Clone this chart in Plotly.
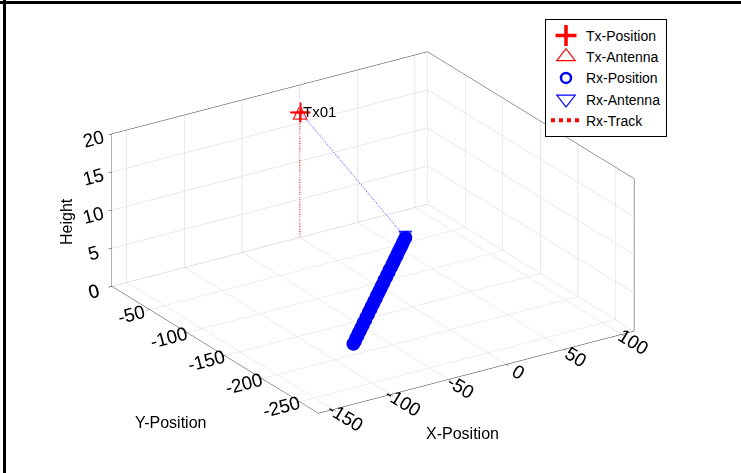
import plotly.graph_objects as go

# ---- data ----
tx_pos = [0.0, 0.0, 16.5]          # x, y, height
tx_label = "Tx01"
rx_x = [53.0, 49.4, 46.1, 42.7, 39.4, 35.8, 32.5, 29.1, 25.6, 22.2, 18.9, 15.4,
        11.8, 8.6, 5.0, 1.7, -1.9, -5.1, -8.7, -12.0, -15.4, -18.9, -22.4, -25.6,
        -29.2, -32.5, -36.1, -39.3, -42.9, -46.1, -49.8, -53.0, -56.6, -59.8,
        -63.4, -66.7, -70.3, -73.5, -77.1, -80.4, -84.0]
rx_y = [-59.0, -62.6, -66.0, -69.7, -73.0, -76.7, -80.1, -83.8, -87.1, -90.8,
        -94.2, -97.9, -101.2, -104.9, -108.3, -112.0, -115.3, -119.0, -122.4,
        -126.1, -129.4, -133.1, -136.5, -140.2, -143.5, -147.2, -150.6, -154.3,
        -157.6, -161.3, -164.7, -168.4, -171.7, -175.4, -178.8, -182.5, -185.8,
        -189.5, -192.9, -196.6, -200.0]
rx_h = [1.5] * len(rx_x)
x_range = [-163, 111]
y_range = [-275, 0.4]
z_range = [0, 20]
z_ticks = [0, 5, 10, 15, 20]
x_ticks = [-150, -100, -50, 0, 50, 100]
y_ticks = [-250, -200, -150, -100, -50, 0]
x_ticktext = ["-150", "-100", "-50", "0", "50", "100"]
y_ticktext = ["-250", "-200", "-150", "-100", "-50", "0"]
z_ticktext = ["0", "5", "10", "15", "20"]

RED = "#ff0000"
BLUE = "#0000ff"
FONT = "Liberation Sans, Arial, sans-serif"
FS = 15
FT = 16
ZOOM = 1.62

fig = go.Figure()

# Tx mast (vertical dotted line)
fig.add_trace(go.Scatter3d(x=[tx_pos[0], tx_pos[0]], y=[tx_pos[1], tx_pos[1]],
                           z=[z_range[0], tx_pos[2]], mode="lines",
                           line=dict(color=RED, width=2, dash="dot"),
                           showlegend=False, hoverinfo="skip"))
# LOS line Tx -> Rx antenna
fig.add_trace(go.Scatter3d(x=[tx_pos[0], rx_x[0]], y=[tx_pos[1], rx_y[0]],
                           z=[tx_pos[2], rx_h[0]], mode="lines",
                           line=dict(color=BLUE, width=1.5, dash="dot"),
                           showlegend=False, hoverinfo="skip"))
# Rx positions
fig.add_trace(go.Scatter3d(x=rx_x, y=rx_y, z=rx_h, mode="markers",
                           marker=dict(symbol="circle", size=8, color=BLUE,
                                       line=dict(width=0)),
                           showlegend=False, hoverinfo="skip"))
# Rx track
fig.add_trace(go.Scatter3d(x=rx_x, y=rx_y, z=rx_h, mode="lines",
                           line=dict(color=RED, width=2, dash="dot"),
                           showlegend=False, hoverinfo="skip"))
# Tx position (+)
fig.add_trace(go.Scatter3d(x=[tx_pos[0]], y=[tx_pos[1]], z=[tx_pos[2]],
                           mode="markers",
                           marker=dict(symbol="cross", size=11, color=RED),
                           showlegend=False, hoverinfo="skip"))
# Tx antenna (open up-triangle as text glyph)
fig.add_trace(go.Scatter3d(x=[tx_pos[0]], y=[tx_pos[1]], z=[tx_pos[2]],
                           mode="text", text=["△"], textposition="middle center",
                           textfont=dict(color=RED, size=20, family="DejaVu Sans"),
                           showlegend=False, hoverinfo="skip"))
# Rx antenna (open down-triangle)
fig.add_trace(go.Scatter3d(x=[rx_x[0]], y=[rx_y[0]], z=[rx_h[0]],
                           mode="text", text=["▽"], textposition="middle center",
                           textfont=dict(color=BLUE, size=18, family="DejaVu Sans"),
                           showlegend=False, hoverinfo="skip"))

# legend entries (2D proxies on hidden axes)
fig.add_trace(go.Scatter(x=[None], y=[None], mode="markers", name="Tx-Position",
                         marker=dict(symbol="cross-thin-open", size=15, color=RED,
                                     line=dict(color=RED, width=3.5))))
fig.add_trace(go.Scatter(x=[None], y=[None], mode="markers", name="Tx-Antenna",
                         marker=dict(symbol="triangle-up-open", size=16, color=RED,
                                     line=dict(color=RED, width=1.2))))
fig.add_trace(go.Scatter(x=[None], y=[None], mode="markers", name="Rx-Position",
                         marker=dict(symbol="circle-open", size=10, color=BLUE,
                                     line=dict(color=BLUE, width=2.5))))
fig.add_trace(go.Scatter(x=[None], y=[None], mode="markers", name="Rx-Antenna",
                         marker=dict(symbol="triangle-down-open", size=16, color=BLUE,
                                     line=dict(color=BLUE, width=1.2))))
fig.add_trace(go.Scatter(x=[None], y=[None], mode="lines", name="Rx-Track",
                         line=dict(color=RED, width=4, dash="dot")))

axis_common = dict(showbackground=False, gridcolor="#d4d4d4", gridwidth=1,
                   showline=True, linecolor="#333333", linewidth=1, mirror=True,
                   zeroline=False, ticks="inside", ticklen=4, tickcolor="#333333",
                   tickfont=dict(family=FONT, size=FS, color="black"),
                   showspikes=False, title=dict(text=""))

fig.update_layout(
    width=741, height=473,
    margin=dict(l=0, r=0, t=0, b=0),
    paper_bgcolor="white", plot_bgcolor="white",
    font=dict(family=FONT, size=FS, color="black"),
    xaxis=dict(visible=False), yaxis=dict(visible=False),
    scene=dict(
        domain=dict(x=[0.007, 1.0], y=[0.017, 1.0]),
        xaxis=dict(range=x_range, tickvals=x_ticks, ticktext=x_ticktext, **axis_common),
        yaxis=dict(range=y_range, tickvals=y_ticks, ticktext=y_ticktext, **axis_common),
        zaxis=dict(range=z_range, tickvals=z_ticks, ticktext=z_ticktext, **axis_common),
        aspectmode="manual",
        aspectratio=dict(x=1.0 * ZOOM, y=1.006 * ZOOM, z=0.4415 * ZOOM),
        camera=dict(eye=dict(x=-0.95, y=-1.46, z=0.76),
                    center=dict(x=0, y=0, z=0), up=dict(x=0, y=0, z=1),
                    projection=dict(type="orthographic")),
        annotations=[dict(x=tx_pos[0], y=tx_pos[1], z=tx_pos[2], text=tx_label,
                          showarrow=False, xanchor="left", xshift=1,
                          font=dict(family=FONT, size=FS, color="black"))],
    ),
    annotations=[
        dict(text="X-Position", x=462 / 741, y=1 - 433 / 473, xref="paper",
             yref="paper", xanchor="center", yanchor="middle", showarrow=False,
             font=dict(family=FONT, size=FT)),
        dict(text="Y-Position", x=170 / 741, y=1 - 422 / 473, xref="paper",
             yref="paper", xanchor="center", yanchor="middle", showarrow=False,
             font=dict(family=FONT, size=FT)),
        dict(text="Height", x=66 / 741, y=1 - 222 / 473, xref="paper",
             yref="paper", xanchor="center", yanchor="middle", showarrow=False,
             textangle=-90, font=dict(family=FONT, size=FT)),
    ],
    legend=dict(x=0.7355, y=0.96, xanchor="left", yanchor="top",
                bgcolor="white", bordercolor="black", borderwidth=1,
                font=dict(family=FONT, size=14), tracegroupgap=0),
    shapes=[
        dict(type="line", xref="paper", yref="paper", x0=0, x1=1,
             y0=1 - 2.5 / 473, y1=1 - 2.5 / 473, line=dict(color="black", width=3)),
        dict(type="line", xref="paper", yref="paper", x0=4.5 / 741, x1=4.5 / 741,
             y0=0, y1=1, line=dict(color="black", width=3)),
    ],
)

fig.write_html("out.html")
